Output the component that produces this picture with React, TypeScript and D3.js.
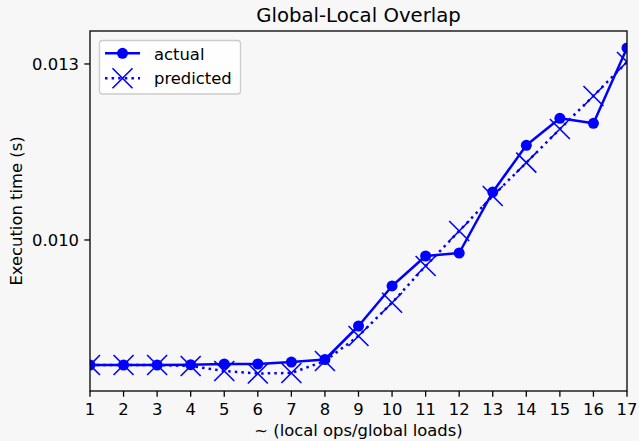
import React from "react";
import * as d3 from "d3";

const xs = [1, 2, 3, 4, 5, 6, 7, 8, 9, 10, 11, 12, 13, 14, 15, 16, 17];
const actual = [0.007869, 0.007869, 0.007869, 0.007874, 0.007886, 0.007886, 0.00792, 0.007963, 0.008534, 0.009216, 0.009727, 0.009778, 0.010818, 0.011614, 0.012074, 0.011989, 0.013273];
const predicted = [0.007869, 0.007869, 0.007869, 0.007852, 0.007767, 0.007724, 0.007733, 0.007937, 0.008364, 0.008931, 0.009557, 0.010153, 0.01075, 0.011318, 0.011892, 0.012455, 0.013034];
const xTicks = [1, 2, 3, 4, 5, 6, 7, 8, 9, 10, 11, 12, 13, 14, 15, 16, 17];
const yTicks = [0.010, 0.013];
const yTickLabels = ["0.010", "0.013"];
const title = "Global-Local Overlap";
const xLabel = "~ (local ops/global loads)";
const yLabel = "Execution time (s)";
const seriesNames = ["actual", "predicted"];

const W = 639, H = 441;
const L = 90, R = 627, T = 31, B = 391;
const BG = "#f7f7f7";
const BLUE = "#0000ff";
const FONT = "DejaVu Sans";

export default function App() {
  const x = d3.scaleLinear().domain([1, 17]).range([L, R]);
  const y = d3.scaleLinear().domain([0.007426, 0.013562]).range([B, T]);
  const line = d3.line<number>().x((_, i) => x(xs[i])).y((d) => y(d));
  const xm = 10;
  return (
    <svg width={W} height={H} style={{ position: "absolute", left: 0, top: 0, background: BG }} fontFamily={FONT}>
      <rect x={0} y={0} width={W} height={H} fill={BG} />
      <defs>
        <clipPath id="plotclip">
          <rect x={L} y={T} width={R - L} height={B - T} />
        </clipPath>
      </defs>
      <g clipPath="url(#plotclip)">
        <path d={line(predicted) || ""} fill="none" stroke={BLUE} strokeWidth={2.5} strokeDasharray="2.5 4.1" />
        {predicted.map((v, i) => (
          <path key={"p" + i} d={`M${x(xs[i]) - xm},${y(v) - xm}L${x(xs[i]) + xm},${y(v) + xm}M${x(xs[i]) - xm},${y(v) + xm}L${x(xs[i]) + xm},${y(v) - xm}`} stroke={BLUE} strokeWidth={1.6} fill="none" />
        ))}
        <path d={line(actual) || ""} fill="none" stroke={BLUE} strokeWidth={2.5} strokeLinejoin="round" />
        {actual.map((v, i) => (
          <circle key={"a" + i} cx={x(xs[i])} cy={y(v)} r={5.5} fill={BLUE} />
        ))}
      </g>
      <rect x={L} y={T} width={R - L} height={B - T} fill="none" stroke="#000" strokeWidth={1.3} />
      {xTicks.map((t) => (
        <g key={"xt" + t}>
          <line x1={x(t)} x2={x(t)} y1={B} y2={B + 5.7} stroke="#000" strokeWidth={1.3} />
          <text x={x(t)} y={415} fontSize={16.4} textAnchor="middle" fill="#000">{t}</text>
        </g>
      ))}
      {yTicks.map((t, i) => (
        <g key={"yt" + t}>
          <line x1={L - 5.7} x2={L} y1={y(t)} y2={y(t)} stroke="#000" strokeWidth={1.3} />
          <text x={79} y={y(t) + 6} fontSize={16.4} textAnchor="end" fill="#000">{yTickLabels[i]}</text>
        </g>
      ))}
      <text x={(L + R) / 2} y={21.5} fontSize={19.7} textAnchor="middle" fill="#000">{title}</text>
      <text x={(L + R) / 2} y={436} fontSize={16.4} textAnchor="middle" fill="#000">{xLabel}</text>
      <text transform={`translate(22,${(T + B) / 2}) rotate(-90)`} fontSize={16.4} textAnchor="middle" fill="#000">{yLabel}</text>
      <g>
        <rect x={99.5} y={40.5} width={141} height={53.5} rx={3} fill="#ffffff" fillOpacity={0.8} stroke="#cccccc" strokeWidth={1.3} />
        <line x1={105} x2={140} y1={53.3} y2={53.3} stroke={BLUE} strokeWidth={2.5} />
        <circle cx={122.5} cy={53.3} r={5.5} fill={BLUE} />
        <text x={154} y={59.5} fontSize={16.4} fill="#000">{seriesNames[0]}</text>
        <line x1={105} x2={140} y1={78.3} y2={78.3} stroke={BLUE} strokeWidth={2.5} strokeDasharray="2.5 4.1" />
        <path d={`M${122.5 - xm},${78.3 - xm}L${122.5 + xm},${78.3 + xm}M${122.5 - xm},${78.3 + xm}L${122.5 + xm},${78.3 - xm}`} stroke={BLUE} strokeWidth={1.6} fill="none" />
        <text x={154} y={84.3} fontSize={16.4} fill="#000">{seriesNames[1]}</text>
      </g>
    </svg>
  );
}
